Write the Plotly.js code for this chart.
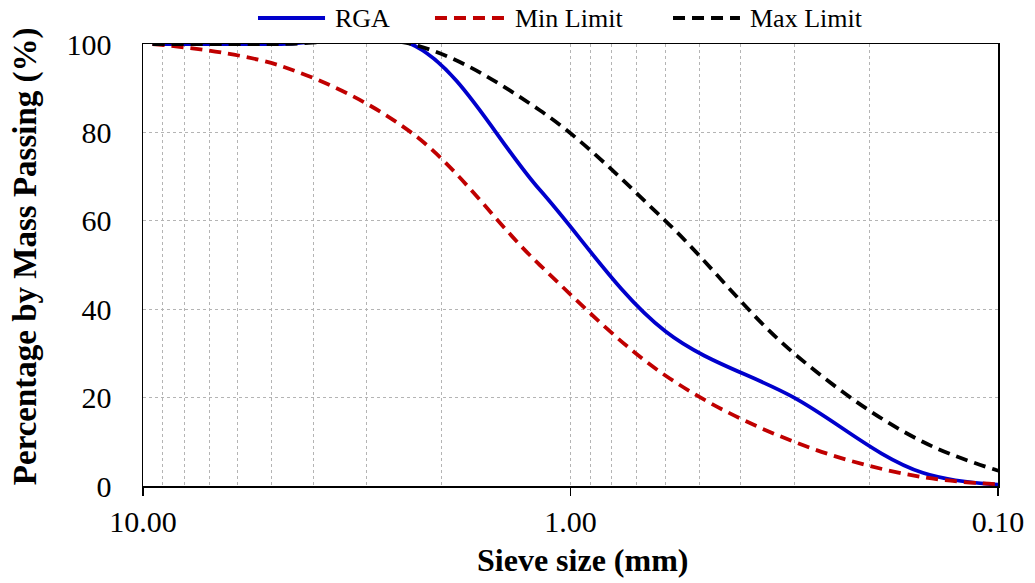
<!DOCTYPE html>
<html>
<head>
<meta charset="utf-8">
<script src="https://cdn.plot.ly/plotly-3.0.1.min.js"></script>
<style>
  html, body { margin: 0; padding: 0; background: #fff; }
  #chart { width: 1035px; height: 583px; }
</style>
</head>
<body>
<div id="chart"></div>
<script>
// Sieve sizes (mm) and cumulative percentage passing
const sieveSizes = [9.5, 4.75, 2.36, 1.18, 0.6, 0.3, 0.15, 0.075];
const rgaPassing = [100, 100, 100, 67, 35, 20, 3, 0];
const minLimit   = [100, 95, 80, 50, 25, 10, 2, 0];
const maxLimit   = [100, 100, 100, 85, 60, 30, 10, 0];
const seriesNames = ['RGA', 'Min Limit', 'Max Limit'];
const xTickVals  = [10, 1, 0.1];
const xTickText  = ['10.00', '1.00', '0.10'];
const yTickVals  = [0, 20, 40, 60, 80, 100];
const xTitle = 'Sieve size (mm)';
const yTitle = 'Percentage by Mass Passing (%)';

const serif = 'Liberation Serif';
const dashPattern = '12px,7px';
const lineW = 3.8;

const traces = [
  {
    name: seriesNames[0], x: sieveSizes, y: rgaPassing, mode: 'lines',
    line: { color: '#0000CC', width: lineW, shape: 'spline', smoothing: 1 }
  },
  {
    name: seriesNames[1], x: sieveSizes, y: minLimit, mode: 'lines',
    line: { color: '#C00000', width: lineW, dash: dashPattern, shape: 'spline', smoothing: 1 }
  },
  {
    name: seriesNames[2], x: sieveSizes, y: maxLimit, mode: 'lines',
    line: { color: '#000000', width: lineW, dash: dashPattern, shape: 'spline', smoothing: 1 }
  }
];

// Legend row above the plot, in paper units: sample line start/end and label start
const legendY = 1.0588;
const legendSlots = [
  { x0: 0.1345, x1: 0.2129, tx: 0.2222 },
  { x0: 0.3415, x1: 0.4234, tx: 0.4327 },
  { x0: 0.6199, x1: 0.6982, tx: 0.7076 }
];
const legendShapes = traces.map((t, i) => ({
  type: 'line', xref: 'paper', yref: 'paper',
  x0: legendSlots[i].x0, x1: legendSlots[i].x1, y0: legendY, y1: legendY,
  line: { color: t.line.color, width: lineW, dash: t.line.dash || 'solid' }
}));
const legendLabels = traces.map((t, i) => ({
  text: t.name, xref: 'paper', yref: 'paper',
  x: legendSlots[i].tx, y: legendY, xanchor: 'left', yanchor: 'middle',
  showarrow: false, font: { family: serif, size: 26, color: '#000' }
}));

const gridCol = '#b4b4b4';

const layout = {
  width: 1035, height: 583,
  margin: { l: 143, r: 37, t: 44, b: 97 },
  paper_bgcolor: '#ffffff', plot_bgcolor: '#ffffff',
  font: { family: serif, color: '#000' },
  showlegend: false,
  xaxis: {
    type: 'log', range: [1, -1],
    tickvals: xTickVals, ticktext: xTickText,
    ticks: 'outside', ticklen: 8, tickwidth: 1.5, tickcolor: '#000',
    tickfont: { family: serif, size: 30, color: '#000' },
    showline: true, linecolor: '#000', linewidth: 1.5, mirror: true,
    showgrid: true, gridcolor: gridCol, griddash: 'dot', gridwidth: 1,
    minor: { showgrid: true, gridcolor: gridCol, griddash: 'dot', gridwidth: 1, dtick: 'D1', ticks: '' },
    zeroline: false, automargin: false
  },
  yaxis: {
    range: [0, 100], tickvals: yTickVals,
    ticks: '', ticklabelstandoff: 24,
    tickfont: { family: serif, size: 30, color: '#000' },
    showline: true, linecolor: '#000', linewidth: 1.5, mirror: true,
    showgrid: true, gridcolor: gridCol, griddash: 'dot', gridwidth: 1,
    zeroline: false, automargin: false
  },
  shapes: legendShapes,
  annotations: [
    {
      text: '<b>' + xTitle + '</b>', xref: 'paper', yref: 'paper',
      x: 0.5146, y: -0.167, xanchor: 'center', yanchor: 'middle', showarrow: false,
      font: { family: serif, size: 32, color: '#000' }
    },
    {
      text: '<b>' + yTitle + '</b>', xref: 'paper', yref: 'paper', textangle: -90,
      x: -0.138, y: 0.520, xanchor: 'center', yanchor: 'middle', showarrow: false,
      font: { family: serif, size: 33, color: '#000' }
    }
  ].concat(legendLabels)
};

Plotly.newPlot('chart', traces, layout, { displayModeBar: false, staticPlot: true });
</script>
</body>
</html>
